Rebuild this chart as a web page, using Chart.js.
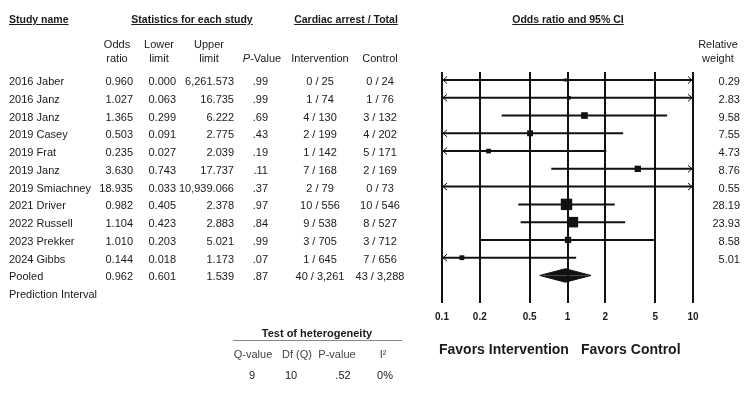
<!DOCTYPE html>
<html>
<head>
<meta charset="utf-8">
<script src="https://cdn.jsdelivr.net/npm/chart.js@4.4.1/dist/chart.umd.min.js"></script>
<style>
  html, body { margin: 0; padding: 0; background: #fff; }
  #wrap {
    position: relative;
    width: 751px;
    height: 397px;
    font-family: "Liberation Sans", Arial, sans-serif;
    font-size: 11px;
    color: #1a1a1a;
  }
  #wrap canvas { position: absolute; left: 0; top: 0; }
  .t { position: absolute; white-space: nowrap; line-height: 12px; }
  .b { font-weight: bold; font-size: 10.5px; }
  .u { text-decoration: underline; }
</style>
</head>
<body>
<div id="wrap"><canvas id="forest" width="751" height="397"></canvas></div>
<script>
const studies = [
  "2016 Jaber", "2016 Janz", "2018 Janz", "2019 Casey", "2019 Frat", "2019 Janz",
  "2019 Smiachney", "2021 Driver", "2022 Russell", "2023 Prekker", "2024 Gibbs",
];
const oddsRatio = [0.960, 1.027, 1.365, 0.503, 0.235, 3.630, 18.935, 0.982, 1.104, 1.010, 0.144];
const lowerLimit = [0.000, 0.063, 0.299, 0.091, 0.027, 0.743, 0.033, 0.405, 0.423, 0.203, 0.018];
const upperLimit = [6261.573, 16.735, 6.222, 2.775, 2.039, 17.737, 10939.066, 2.378, 2.883, 5.021, 1.173];
const pValues = [".99", ".99", ".69", ".43", ".19", ".11", ".37", ".97", ".84", ".99", ".07"];
const interventionEvents = [0, 1, 4, 2, 1, 7, 2, 10, 9, 3, 1];
const interventionTotal = [25, 74, 130, 199, 142, 168, 79, 556, 538, 705, 645];
const controlEvents = [0, 1, 3, 4, 5, 2, 0, 10, 8, 3, 7];
const controlTotal = [24, 76, 132, 202, 171, 169, 73, 546, 527, 712, 656];
const relativeWeight = [0.29, 2.83, 9.58, 7.55, 4.73, 8.76, 0.55, 28.19, 23.93, 8.58, 5.01];

const pooled = { or: 0.962, lower: 0.601, upper: 1.539, p: ".87", intE: 40, intT: 3261, ctlE: 43, ctlT: 3288 };

const axisTicks = [0.1, 0.2, 0.5, 1, 2, 5, 10];
const axisMin = 0.1;
const axisMax = 10;

const heterogeneityHeads = ["Q-value", "Df (Q)", "P-value", "I\u00b2"];
const heterogeneityValues = ["9", "10", ".52", "0%"];

const wrap = document.querySelector("#wrap");
const fmt = (v) => v.toLocaleString("en-US", { minimumFractionDigits: 3, maximumFractionDigits: 3 });
const count = (n) => n.toLocaleString("en-US");

// x = anchor, align = left | right | center, y = text middle
const put = (text, x, y, align = "left", cls = "") => {
  const el = document.createElement("div");
  el.className = "t " + cls;
  el.innerHTML = text;
  el.style.left = x + "px";
  el.style.top = y - 6 + "px";
  if (align === "right") el.style.transform = "translateX(-100%)";
  if (align === "center") el.style.transform = "translateX(-50%)";
  wrap.appendChild(el);
  return el;
};

// headers
put("Study name", 9, 19, "left", "b u");
put("Statistics for each study", 192, 19, "center", "b u");
put("Cardiac arrest / Total", 346, 19, "center", "b u");
put("Odds ratio and 95% CI", 568, 19, "center", "b u");
put("Odds", 117, 44, "center");
put("ratio", 117, 58, "center");
put("Lower", 159, 44, "center");
put("limit", 159, 58, "center");
put("Upper", 209, 44, "center");
put("limit", 209, 58, "center");
put("<i>P</i>-Value", 262, 58, "center");
put("Intervention", 320, 58, "center");
put("Control", 380, 58, "center");
put("Relative", 718, 44, "center");
put("weight", 718, 58, "center");

const rowY = (i) => 81 + i * 17.75;

studies.forEach((name, i) => {
  const y = rowY(i);
  put(name, 9, y);
  put(oddsRatio[i].toFixed(3), 133, y, "right");
  put(lowerLimit[i].toFixed(3), 176, y, "right");
  put(fmt(upperLimit[i]), 234, y, "right");
  put(pValues[i], 268, y, "right");
  put(`${interventionEvents[i]} / ${count(interventionTotal[i])}`, 320, y, "center");
  put(`${controlEvents[i]} / ${count(controlTotal[i])}`, 380, y, "center");
  put(relativeWeight[i].toFixed(2), 740, y, "right");
});

const pooledRow = studies.length;
put("Pooled", 9, rowY(pooledRow));
put(pooled.or.toFixed(3), 133, rowY(pooledRow), "right");
put(pooled.lower.toFixed(3), 176, rowY(pooledRow), "right");
put(pooled.upper.toFixed(3), 234, rowY(pooledRow), "right");
put(pooled.p, 268, rowY(pooledRow), "right");
put(`${pooled.intE} / ${count(pooled.intT)}`, 320, rowY(pooledRow), "center");
put(`${pooled.ctlE} / ${count(pooled.ctlT)}`, 380, rowY(pooledRow), "center");
put("Prediction Interval", 9, rowY(pooledRow + 1));

// heterogeneity box
const het = put("Test of heterogeneity", 317, 333, "center", "b");
het.style.fontSize = "11px";
const rule = document.createElement("div");
rule.style.cssText = "position:absolute;left:233px;top:340px;width:169px;height:1px;background:#888;";
wrap.appendChild(rule);
const hetX = [253, 297, 337, 383];
const hetValX = [252, 291, 343, 385];
heterogeneityHeads.forEach((h, i) => put(h, hetX[i], 354, "center").style.color = "#444");
heterogeneityValues.forEach((v, i) => put(v, hetValX[i], 375, "center"));

put("Favors Intervention", 439, 349, "left", "b").style.fontSize = "14px";
put("Favors Control", 581, 349, "left", "b").style.fontSize = "14px";

// chart
const clip = (v) => Math.min(Math.max(v, axisMin), axisMax);

const ciLines = studies.map((name, i) => ({
  type: "scatter",
  label: name,
  showLine: true,
  data: [
    { x: clip(lowerLimit[i]), y: i },
    { x: clip(upperLimit[i]), y: i },
  ],
  borderColor: "#111",
  borderWidth: 2,
  pointRadius: 0,
}));

const squares = {
  type: "scatter",
  label: "Odds ratio",
  data: oddsRatio.map((v, i) => ({ x: v, y: i })),
  pointStyle: "rect",
  pointRadius: relativeWeight.map((w) => Math.max(3, 2.15 * Math.sqrt(w)) / Math.SQRT2),
  pointBackgroundColor: "#111",
  pointBorderWidth: 0,
};

const half = 0.38;
const diamondHalf = (sign) => ({
  type: "scatter",
  label: "Pooled",
  showLine: true,
  data: [
    { x: pooled.lower, y: pooledRow },
    { x: pooled.or, y: pooledRow + sign * half },
    { x: pooled.upper, y: pooledRow },
  ],
  borderColor: "#111",
  borderWidth: 1,
  backgroundColor: "#111",
  fill: { value: pooledRow },
  pointRadius: 0,
  tension: 0,
});

const arrowPlugin = {
  id: "ciArrows",
  afterDatasetsDraw(chart) {
    const { ctx, scales } = chart;
    ctx.save();
    ctx.strokeStyle = "#111";
    ctx.lineWidth = 1;
    studies.forEach((name, i) => {
      const py = scales.y.getPixelForValue(i);
      if (lowerLimit[i] < axisMin) {
        const px = scales.x.getPixelForValue(axisMin);
        ctx.beginPath();
        ctx.moveTo(px + 5, py - 3.5);
        ctx.lineTo(px + 1, py);
        ctx.lineTo(px + 5, py + 3.5);
        ctx.stroke();
      }
      if (upperLimit[i] > axisMax) {
        const px = scales.x.getPixelForValue(axisMax);
        ctx.beginPath();
        ctx.moveTo(px - 5, py - 3.5);
        ctx.lineTo(px - 1, py);
        ctx.lineTo(px - 5, py + 3.5);
        ctx.stroke();
      }
    });
    ctx.restore();
  },
};

new Chart(document.querySelector("#forest"), {
  type: "scatter",
  data: {
    datasets: [squares, diamondHalf(-1), diamondHalf(1), ...ciLines],
  },
  options: {
    responsive: false,
    animation: false,
    events: [],
    layout: { padding: { left: 442, right: 58, top: 72, bottom: 64 } },
    plugins: { legend: { display: false }, tooltip: { enabled: false } },
    scales: {
      x: {
        type: "logarithmic",
        min: axisMin,
        max: axisMax,
        afterBuildTicks: (axis) => {
          axis.ticks = axisTicks.map((v) => ({ value: v }));
        },
        afterFit: (axis) => {
          axis.height = 30;
        },
        ticks: {
          callback: (value) => String(value),
          color: "#1a1a1a",
          padding: 8,
          maxRotation: 0,
          autoSkip: false,
          font: { family: "Liberation Sans", size: 10, weight: "bold" },
        },
        grid: { color: "#111", lineWidth: 2, drawTicks: false },
        border: { display: false },
      },
      y: {
        type: "linear",
        min: -0.45,
        max: 12.55,
        reverse: true,
        display: false,
      },
    },
  },
  plugins: [arrowPlugin],
});
</script>
</body>
</html>
